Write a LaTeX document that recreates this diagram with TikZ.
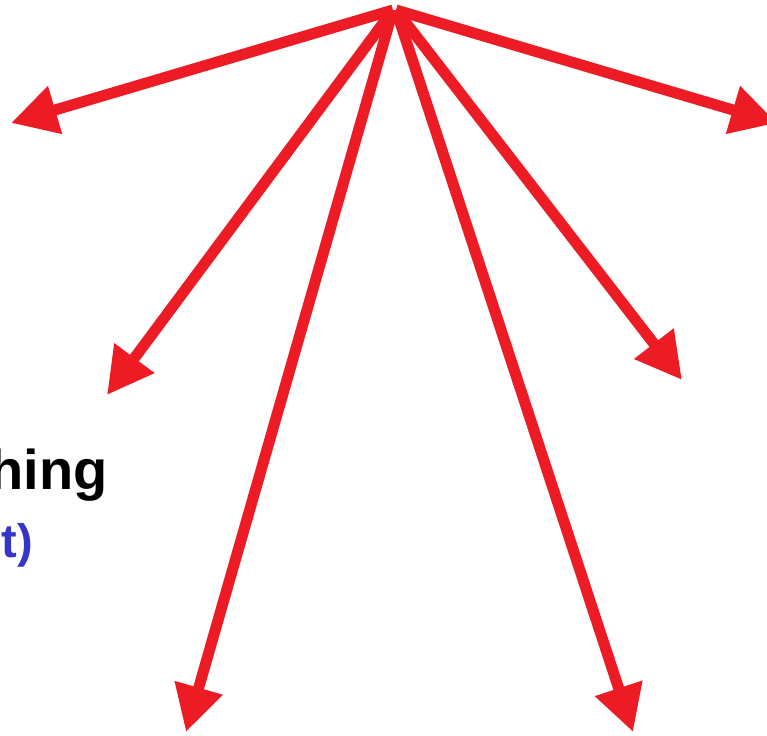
\documentclass[tikz,border=0pt]{standalone}
\usepackage{fontspec}
\setmainfont{Liberation Sans}
\usepackage{xcolor}
\usetikzlibrary{arrows.meta, positioning}
\definecolor{spokered}{HTML}{ED1C24}
\definecolor{noteblue}{HTML}{3535C8}

\begin{document}
\begin{tikzpicture}[x=1pt, y=-1pt,
                spoke/.style={draw=spokered, line width=11pt, -{Triangle[length=46pt, width=47pt]}},
                every node/.style={inner sep=0pt, font=\bfseries}]
                \useasboundingbox (0,0) rectangle (767,735);
                \coordinate (apexl) at (393,10);
                \coordinate (apexr) at (396,10);
                \coordinate (farleft)  at (11,123);
                \coordinate (midleft)  at (107,395);
                \coordinate (lowleft)  at (186,732);
                \coordinate (lowright) at (633,732);
                \coordinate (midright) at (682,380);
                \coordinate (farright) at (777,123);
                \draw[spoke] (apexl) -- (farleft);
                \draw[spoke] (apexl) -- (midleft);
                \draw[spoke] (apexl) -- (lowleft);
                \draw[spoke] (apexr) -- (lowright);
                \draw[spoke] (apexr) -- (midright);
                \draw[spoke] (apexr) -- (farright);
                \node (title) [anchor=base east, font=\fontsize{56}{58}\selectfont\bfseries] at (108,489) {hing};
                \node (note)  [anchor=base east, text=noteblue, font=\fontsize{47}{49}\selectfont\bfseries] at (33,557) {t)};
            \end{tikzpicture}
\end{document}
